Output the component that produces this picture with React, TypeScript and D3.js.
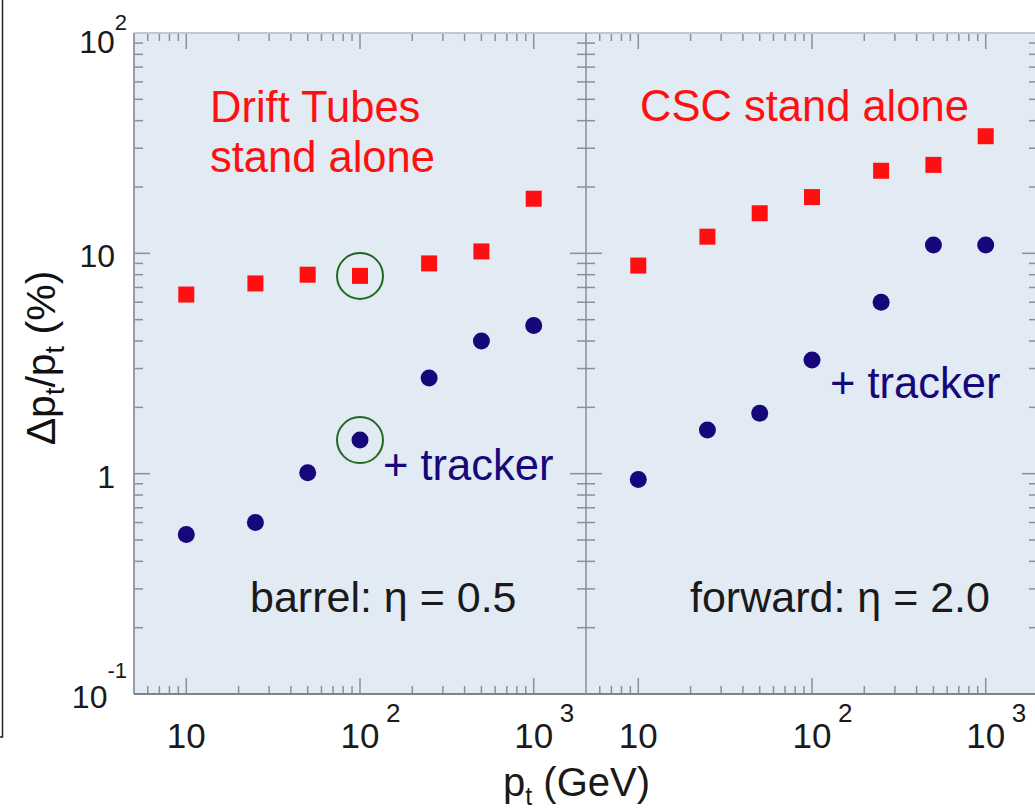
import React from 'react';
import { scaleLog } from 'd3';

// transverse momentum points (GeV), same for both panels
const ptValues = [10, 25, 50, 100, 250, 500, 1000];
// resolution in %
const dtStandalone = [6.5, 7.3, 8.0, 7.9, 9.0, 10.2, 17.7];
const dtTracker = [0.53, 0.6, 1.01, 1.42, 2.72, 4.0, 4.7];
const cscStandalone = [8.8, 11.9, 15.2, 18.0, 23.7, 25.2, 34.0];
const cscTracker = [0.94, 1.58, 1.88, 3.28, 6.0, 10.9, 10.9];
const highlighted = [100];

const xTickLabels = [
  { v: 10, base: '10', sup: '' },
  { v: 100, base: '10', sup: '2' },
  { v: 1000, base: '10', sup: '3' },
];
const yTickLabels = [
  { v: 0.1, base: '10', sup: '-1' },
  { v: 1, base: '1', sup: '' },
  { v: 10, base: '10', sup: '' },
  { v: 100, base: '10', sup: '2' },
];

const width = 1035;
const height = 812;
const top = 33;
const bottom = 694;
const left = 134;
const mid = 586;
const right = 1038;
const font = 'Liberation Sans, Arial, Helvetica, sans-serif';
const axisColor = '#8c8f99';
const red = '#ff1010';
const navy = '#16087a';

const y = scaleLog().domain([0.1, 100]).range([bottom, top]);
const xL = scaleLog().domain([5, 2000]).range([left, mid]);
const xR = scaleLog().domain([5, 2000]).range([mid, right]);

const isMajor = (v) => Math.abs(Math.log10(v) - Math.round(Math.log10(v))) < 1e-6;

const XTicks = ({ x }) => {
  const [d0, d1] = x.domain();
  return (
    <g stroke={axisColor} strokeWidth={1.5}>
      {x.ticks().filter((t) => t > d0 && t < d1).map((t, i) => {
        const len = isMajor(t) ? 16 : 8;
        return (
          <g key={i} transform={`translate(${x(t)},0)`}>
            <line y1={bottom} y2={bottom - len} />
            <line y1={top} y2={top + len} />
          </g>
        );
      })}
    </g>
  );
};

const Panel = ({ x, squares, circles }) => (
  <g>
    <XTicks x={x} />
    {ptValues.map((p, i) => (
      <circle key={'c' + i} cx={x(p)} cy={y(circles[i])} r={8.5} fill={navy} />
    ))}
    {ptValues.map((p, i) => (
      <rect key={'s' + i} x={x(p) - 8} y={y(squares[i]) - 8} width={16} height={16} fill={red} />
    ))}
    {xTickLabels.map((d) => (
      <text key={d.v} x={x(d.v)} y={748} fontSize={35} textAnchor="middle" fill="#1a1a1a">
        {d.base}
      </text>
    ))}
    {xTickLabels.filter((d) => d.sup).map((d) => (
      <text key={'s' + d.v} x={x(d.v) + 26} y={722} fontSize={26} fill="#1a1a1a">
        {d.sup}
      </text>
    ))}
  </g>
);

export default function App() {
  const yTicks = y.ticks().filter((t) => t > 0.1 && t < 100);
  return (
    <svg
      width={width}
      height={height}
      style={{ position: 'absolute', left: 0, top: 0, background: '#fff' }}
      fontFamily={font}
    >
      <rect x={left} y={top} width={right - left} height={bottom - top} fill="#e2eaf4" />

      {/* y ticks: left axis, divider (both sides), right edge */}
      <g stroke={axisColor} strokeWidth={1.5}>
        {yTicks.map((t, i) => {
          const len = isMajor(t) ? 16 : 9;
          return (
            <g key={i} transform={`translate(0,${y(t)})`}>
              <line x1={left} x2={left + len} />
              <line x1={mid - len} x2={mid + len} />
              <line x1={right - len} x2={right} />
            </g>
          );
        })}
      </g>

      <Panel x={xL} squares={dtStandalone} circles={dtTracker} />
      <Panel x={xR} squares={cscStandalone} circles={cscTracker} />

      {/* frame */}
      <line x1={left} x2={right} y1={top} y2={top} stroke="#c4c6cc" strokeWidth={2} />
      <line x1={left} x2={left} y1={top} y2={bottom} stroke="#9a9ca4" strokeWidth={2} />
      <line x1={left} x2={right} y1={bottom} y2={bottom} stroke="#80838e" strokeWidth={2} />
      <line x1={mid} x2={mid} y1={top} y2={bottom} stroke={axisColor} strokeWidth={1.5} />
      <path d="M0,737 H2.5 V0" fill="none" stroke="#222" strokeWidth={1.5} />

      {/* highlighted points */}
      {highlighted.map((p) => (
        <g key={p} fill="none" stroke="#1d6b1d" strokeWidth={2}>
          <circle cx={xL(p)} cy={y(dtStandalone[ptValues.indexOf(p)])} r={23} />
          <circle cx={xL(p)} cy={y(dtTracker[ptValues.indexOf(p)])} r={23} />
        </g>
      ))}

      {/* y tick labels */}
      {yTickLabels.map((d, i) => (
        <text
          key={d.v}
          x={d.sup ? 127 : 115}
          y={y(d.v) + (i === yTickLabels.length - 1 ? 20 : 14)}
          fontSize={32}
          textAnchor="end"
          fill="#1a1a1a"
        >
          {d.base}
          {d.sup && (
            <tspan fontSize={22} dy={d.sup === '-1' ? -30 : -23}>
              {d.sup}
            </tspan>
          )}
        </text>
      ))}

      {/* axis titles */}
      <text x={503} y={796} fontSize={40} fill="#1a1a1a">
        p<tspan fontSize={25} dy={9}>t</tspan>
        <tspan dy={-9}> (GeV)</tspan>
      </text>
      <text
        transform="translate(55,358) rotate(-90)"
        fontSize={41}
        textAnchor="middle"
        fill="#111"
      >
        Δp<tspan fontSize={27} dy={9}>t</tspan>
        <tspan dy={-9}>/p</tspan>
        <tspan fontSize={27} dy={9}>t</tspan>
        <tspan dy={-9}> (%)</tspan>
      </text>

      {/* annotations */}
      <g fontSize={43.5}>
        <text x={210} y={122} fill={red}>Drift Tubes</text>
        <text x={210} y={172} fill={red}>stand alone</text>
        <text x={640} y={121} fill={red}>CSC stand alone</text>
        <text x={383} y={480} fill={navy}>+ tracker</text>
        <text x={830} y={398} fill={navy}>+ tracker</text>
      </g>
      <g fontSize={43} fill="#1a1a1a">
        <text x={250} y={612}>barrel: η = 0.5</text>
        <text x={690} y={612}>forward: η = 2.0</text>
      </g>
    </svg>
  );
}
